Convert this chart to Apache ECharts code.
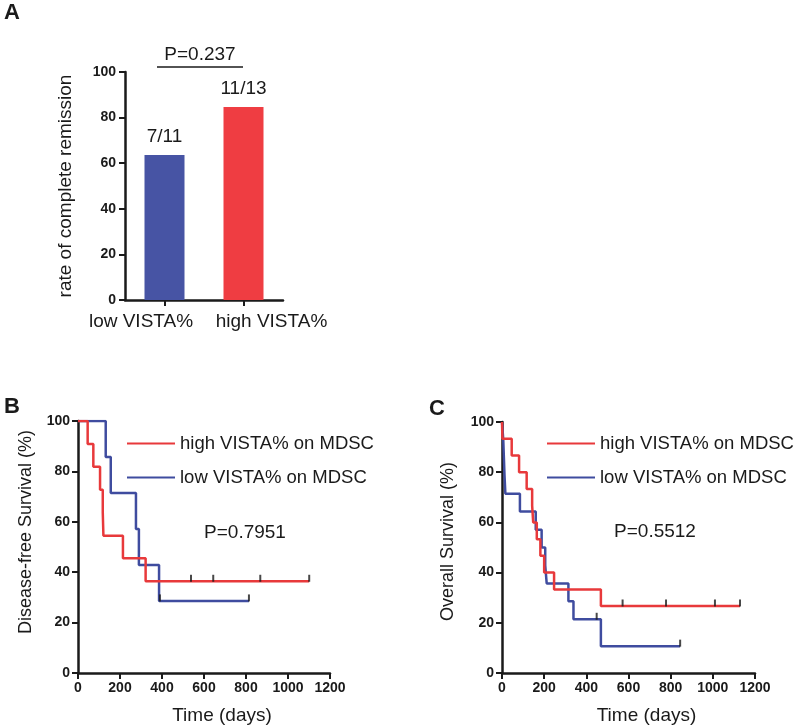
<!DOCTYPE html>
<html>
<head>
<meta charset="utf-8">
<script src="https://cdn.jsdelivr.net/npm/echarts@6/dist/echarts.min.js"></script>
<style>
    html, body {margin: 0; padding: 0; background: #fff;}
    #main {width: 800px; height: 728px;}
</style>
</head>
<body>
<div id="main"></div>
<script>
// panel A - complete remission rate
const barCategories = ['low VISTA%', 'high VISTA%'];
const barValues = [63.6, 84.6];
const barLabels = ['7/11', '11/13'];

// panel B - disease-free survival, [days, %]
const dfsHigh = [[0, 100], [46, 90.9], [73, 81.8], [105, 72.7], [118, 63.6], [121, 54.5], [214, 45.5], [322, 36.4], [1101, 36.4]];
const dfsLow = [[0, 100], [132, 85.7], [156, 71.4], [276, 57.1], [290, 42.9], [386, 28.6], [814, 28.6]];
const dfsHighCensor = [[538, 36.4], [644, 36.4], [868, 36.4], [1101, 36.4]];
const dfsLowCensor = [[390, 28.6], [814, 28.6]];

// panel C - overall survival, [days, %]
const osHigh = [[0, 100], [2, 93.3], [46, 86.7], [81, 80], [117, 73.3], [143, 66.7], [148, 60], [165, 53.3], [182, 46.7], [200, 40], [247, 33.3], [469, 26.7], [1129, 26.7]];
const osLow = [[0, 100], [6, 92.9], [9, 85.7], [12, 78.6], [16, 71.4], [85, 64.3], [160, 57.1], [188, 50], [205, 42.9], [212, 35.7], [315, 28.6], [339, 21.4], [469, 10.7], [845, 10.7]];
const osHighCensor = [[572, 26.7], [778, 26.7], [1010, 26.7], [1129, 26.7]];
const osLowCensor = [[449, 21.4], [845, 10.7]];

const seriesNames = ['high VISTA% on MDSC', 'low VISTA% on MDSC'];
const RED = '#e8393b';
const BLUE = '#3f4c9f';
const INK = '#1a1a1a';
const FONT = 'Liberation Sans, Arial, sans-serif';

var myChart = echarts.init(document.getElementById('main'));

// common look of the black axes
function axisLook(extra) {
    return Object.assign({
        axisLine: {show: true, lineStyle: {color: INK, width: 2.5}},
        axisTick: {show: true, inside: false, length: 6, lineStyle: {color: INK, width: 2}},
        axisLabel: {color: INK, fontSize: 14, fontWeight: 'bold', fontFamily: FONT, formatter: v => String(v)},
        splitLine: {show: false},
        nameTextStyle: {color: INK, fontSize: 19, fontFamily: FONT}
    }, extra);
}

function kmLine(name, data, color, xi) {
    return {
        name: name, type: 'line', step: 'end', data: data,
        xAxisIndex: xi, yAxisIndex: xi,
        showSymbol: false, symbol: 'none',
        lineStyle: {color: color, width: 2.5},
        itemStyle: {color: color},
        animation: false
    };
}

function censorMarks(data, xi) {
    return {
        type: 'scatter', data: data,
        xAxisIndex: xi, yAxisIndex: xi,
        symbol: 'rect', symbolSize: [2, 7], symbolOffset: [0, -3],
        itemStyle: {color: INK},
        z: 5, animation: false
    };
}

function kmLegend(left) {
    return {
        left: left, top: 429, orient: 'vertical',
        data: seriesNames, icon: 'rect',
        itemWidth: 48, itemHeight: 2, itemGap: 15,
        selectedMode: false,
        textStyle: {color: INK, fontSize: 18.5, fontFamily: FONT}
    };
}

// the two category labels sit spread apart from their ticks
const catPadding = [[0, 47, 0, 0], [0, 0, 0, 56]];

myChart.setOption({
    backgroundColor: '#fff',
    animation: false,
    grid: [
        {left: 125, top: 72, width: 158, height: 228},
        {left: 78, top: 421, width: 252, height: 252},
        {left: 502, top: 422, width: 253, height: 251}
    ],
    xAxis: [
        axisLook({
            type: 'category', gridIndex: 0,
            data: barCategories.map((c, i) => ({value: c, textStyle: {padding: catPadding[i]}})),
            axisTick: {show: true, alignWithLabel: true, length: 6, lineStyle: {color: INK, width: 2}},
            axisLabel: {color: INK, fontSize: 19, fontFamily: FONT, margin: 12, interval: 0, hideOverlap: false}
        }),
        axisLook({
            type: 'value', gridIndex: 1, min: 0, max: 1200, interval: 200,
            name: 'Time (days)', nameLocation: 'middle', nameGap: 33,
            nameTextStyle: {color: INK, fontSize: 19, fontFamily: FONT, padding: [0, 0, 0, 36]}
        }),
        axisLook({
            type: 'value', gridIndex: 2, min: 0, max: 1200, interval: 200,
            name: 'Time (days)', nameLocation: 'middle', nameGap: 33,
            nameTextStyle: {color: INK, fontSize: 19, fontFamily: FONT, padding: [0, 0, 0, 36]}
        })
    ],
    yAxis: [
        axisLook({
            type: 'value', gridIndex: 0, min: 0, max: 100, interval: 20,
            name: 'rate of complete remission', nameLocation: 'middle', nameGap: 50,
            axisLabel: {color: INK, fontSize: 14, fontWeight: 'bold', fontFamily: FONT, margin: 9}
        }),
        axisLook({
            type: 'value', gridIndex: 1, min: 0, max: 100, interval: 20,
            name: 'Disease-free Survival (%)', nameLocation: 'middle', nameGap: 43,
            nameTextStyle: {color: INK, fontSize: 18, fontFamily: FONT, padding: [0, 0, 0, 30]},
            axisLabel: {color: INK, fontSize: 14, fontWeight: 'bold', fontFamily: FONT, margin: 8}
        }),
        axisLook({
            type: 'value', gridIndex: 2, min: 0, max: 100, interval: 20,
            name: 'Overall Survival (%)', nameLocation: 'middle', nameGap: 45,
            nameTextStyle: {color: INK, fontSize: 18, fontFamily: FONT, padding: [0, 0, 0, 12]},
            axisLabel: {color: INK, fontSize: 14, fontWeight: 'bold', fontFamily: FONT, margin: 8}
        })
    ],
    legend: [kmLegend(122), kmLegend(542)],
    graphic: [
        {type: 'text', left: 4, top: 2, style: {text: 'A', fill: INK, font: 'bold 22px ' + FONT}},
        {type: 'text', left: 4, top: 396, style: {text: 'B', fill: INK, font: 'bold 22px ' + FONT}},
        {type: 'text', left: 429, top: 398, style: {text: 'C', fill: INK, font: 'bold 22px ' + FONT}},
        {type: 'line', shape: {x1: 157, y1: 67, x2: 243, y2: 67}, style: {stroke: INK, lineWidth: 1.5}},
        {type: 'text', x: 200, y: 55, style: {text: 'P=0.237', fill: INK, font: '19px ' + FONT, textAlign: 'center', textVerticalAlign: 'middle'}},
        {type: 'text', x: 245, y: 533, style: {text: 'P=0.7951', fill: INK, font: '19px ' + FONT, textAlign: 'center', textVerticalAlign: 'middle'}},
        {type: 'text', x: 655, y: 532, style: {text: 'P=0.5512', fill: INK, font: '19px ' + FONT, textAlign: 'center', textVerticalAlign: 'middle'}}
    ],
    series: [
        {
            type: 'bar', xAxisIndex: 0, yAxisIndex: 0, barWidth: 40,
            data: barValues.map((v, i) => ({value: v, itemStyle: {color: i === 0 ? '#4754a4' : '#ef3d42'}})),
            label: {
                show: true, position: 'top', distance: 9,
                color: INK, fontSize: 19, fontFamily: FONT,
                formatter: p => barLabels[p.dataIndex]
            }
        },
        kmLine(seriesNames[1], dfsLow, BLUE, 1),
        kmLine(seriesNames[0], dfsHigh, RED, 1),
        censorMarks(dfsHighCensor, 1),
        censorMarks(dfsLowCensor, 1),
        kmLine(seriesNames[1], osLow, BLUE, 2),
        kmLine(seriesNames[0], osHigh, RED, 2),
        censorMarks(osHighCensor, 2),
        censorMarks(osLowCensor, 2)
    ]
});
</script>
</body>
</html>
